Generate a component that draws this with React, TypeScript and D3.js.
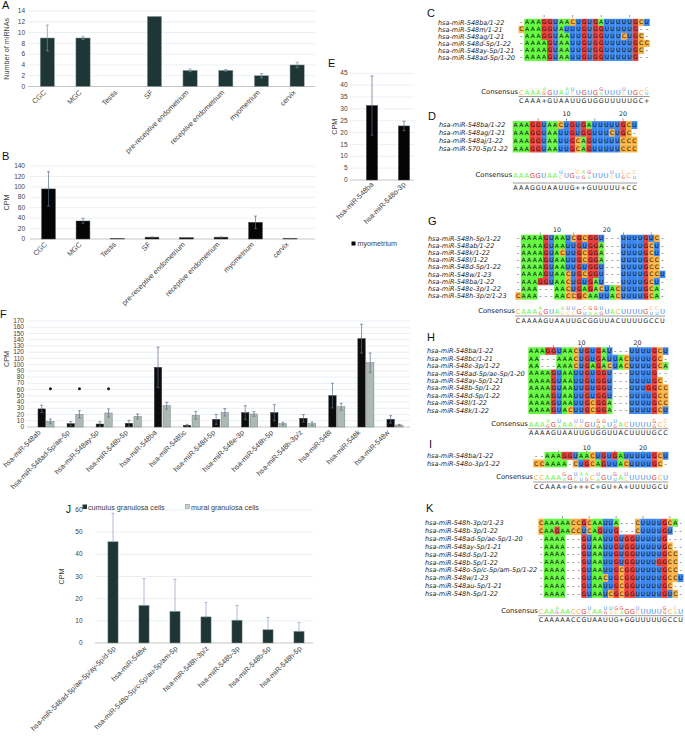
import React from "react";
import * as d3 from "d3";

const FONT = "'Liberation Sans', Arial, sans-serif";
const ALN_FONT = "'DejaVu Sans', Verdana, sans-serif";
const NT: Record<string, string> = { A: "#64F73F", C: "#FFB340", G: "#EB413C", U: "#3C88EE" };

// A / B: tissues
const tissues = ["CGC", "MGC", "Testis", "SF", "pre-receptive endometrium", "receptive endometrium", "myometrium", "cervix"];
const mirnaCounts = [9, 9, 0, 13, 3, 3, 2, 4];
const mirnaCountErr = [2.4, 0.3, 0, 0, 0.25, 0.15, 0.4, 0.5];
const countTicks = [0, 2, 4, 6, 8, 10, 12, 14];
const tissueCpm = [96, 34.5, 0.6, 3.5, 2.5, 3.5, 32, 1];
const tissueCpmErr = [33, 5, 0, 0.4, 0.3, 0.5, 12, 0.3];
const tissueCpmTicks = [0, 20, 40, 60, 80, 100, 120, 140];

// E: myometrium
const myoMirs = ["hsa-miR-548ba", "hsa-miR-548o-3p"];
const myoCpm = [31.4, 22.8];
const myoErr = [12.5, 2];
const myoTicks = [0, 5, 10, 15, 20, 25, 30, 35, 40, 45];

// F: cumulus vs mural
const fMirs = [
  "hsa-miR-548ab", "hsa-miR-548ad-5p/ae-5p", "hsa-miR-548ay-5p", "hsa-miR-548b-5p", "hsa-miR-548ba",
  "hsa-miR-548bc", "hsa-miR-548d-5p", "hsa-miR-548e-3p", "hsa-miR-548h-5p", "hsa-miR-548h-3p/z",
  "hsa-miR-548l", "hsa-miR-548k", "hsa-miR-548w",
];
const cumulusCpm = [29, 5.3, 4.8, 5.9, 95.7, 2.7, 12.3, 23, 23, 13.9, 50.3, 141.7, 12.3];
const cumulusErr = [5.9, 3.3, 3.8, 4.8, 32.3, 1.6, 8, 11.2, 12.8, 5.9, 19.7, 23, 5.9];
const muralCpm = [9, 20.3, 22.5, 17, 34.2, 18.7, 23.5, 20.9, 5.3, 5.3, 32.6, 103.2, 3.2];
const muralErr = [3.8, 5.9, 6.5, 3.9, 5.4, 5.9, 5.9, 3.7, 2.2, 2.7, 5.4, 15.5, 1.1];
const starred = ["hsa-miR-548ab", "hsa-miR-548ad-5p/ae-5p", "hsa-miR-548ay-5p"];
const starLevel = 61.5;
const fTicks = [0, 10, 20, 30, 40, 50, 60, 70, 80, 90, 100, 110, 120, 130, 140, 150, 160, 170];

// J: cumulus only
const jMirs = [
  "hsa-miR-548ad-5p/ae-5p/ay-5p/d-5p", "hsa-miR-548w", "hsa-miR-548o-5p/c-5p/au-5p/am-5p",
  "hsa-miR-548h-3p/z", "hsa-miR-548b-3p", "hsa-miR-548b-5p", "hsa-miR-548h-5p",
];
const jCpm = [45.7, 17, 14.3, 11.8, 10.3, 6, 5.3];
const jErr = [12.8, 12.1, 14.4, 6.5, 6.6, 5.5, 3.9];
const jTicks = [0, 10, 20, 30, 40, 50, 60];

// alignments
const cNames = ["hsa-miR-548ba/1-22", "hsa-miR-548m/1-21", "hsa-miR-548ag/1-21", "hsa-miR-548d-5p/1-22", "hsa-miR-548ay-5p/1-21", "hsa-miR-548ad-5p/1-20"];
const cSeqs = [
  "-AAAGGUAACUGUGAUUUUUGCU",
  "CAAAGGUAUUUGUGGUUUUUG--",
  "-AAAGGUAAUUGUGGUUUCUGC-",
  "-AAAAGUAAUUGUGGUUUUUGCC",
  "-AAAAGUAAUUGUGGUUUUUGC-",
  "-AAAAGUAAUUGUGGUUUUUG--",
];
const cCons = "CAAA+GUAAUUGUGGUUUUUGC+";
const cLogoTop = "CAAAAGUAAUUGUGGUUUUUGCC";
const cLogoBot = "    G   UC    A   C   U";
const cTicks = [4, 9, 14, 19];
const cNums: [number, string][] = [];

const dNames = ["hsa-miR-548ba/1-22", "hsa-miR-548ag/1-21", "hsa-miR-548aj/1-22", "hsa-miR-570-5p/1-22"];
const dSeqs = [
  "AAAGGUAACUGUGAUUUUUGCU",
  "AAAGGUAAUUGUGGUUUCUGC-",
  "AAAGGUAAUUGCAGUUUUUCCC",
  "AAAGGUAAUUGCAGUUUUUCCC",
];
const dCons = "AAAGGUAAUUG++GUUUUU+CC";
const dLogoTop = "AAAGGUAAUUGCAGUUUUUCCC";
const dLogoBot = "        C  UGA   C G U";
const dTicks = [4, 9, 14, 19];
const dNums: [number, string][] = [[9, "10"], [19, "20"]];

const gNames = [
  "hsa-miR-548h-5p/1-22", "hsa-miR-548ab/1-22", "hsa-miR-548k/1-22", "hsa-miR-548l/1-22", "hsa-miR-548d-5p/1-22",
  "hsa-miR-548w/1-23", "hsa-miR-548ba/1-22", "hsa-miR-548e-3p/1-22", "hsa-miR-548h-3p/z/1-23",
];
const gSeqs = [
  "-AAAAGUAAUCGCGGU---UUUUGUC-",
  "-AAAAGUAAUUGUGGA---UUUUGCU-",
  "-AAAAGUACUUGCGGA---UUUUGCU-",
  "-AAAAGUAAUUGCGGA---UUUUGCC-",
  "-AAAAGUAAUUGUGGU---UUUUGCC-",
  "-AAAAGUAACUGCGGU---UUUUGCCU",
  "-AAAGGUAACUGUGAU---UUUUGCU-",
  "-AAA---AACUGAGACUACUUUUGCA-",
  "CAAA---AACCGCAAUUACUUUUGCA-",
];
const gCons = "CAAAAGUAAUUGCGGUUACUUUUGCCU";
const gLogoTop = "CAAAAGUAAUUGCGGUUACUUUUGCCU";
const gLogoBot = "    G   CCC UAAG        UU ";
const gTicks = [4, 10, 19, 24];
const gNums: [number, string][] = [[7, "10"], [16, "20"]];

const hNames = [
  "hsa-miR-548ba/1-22", "hsa-miR-548bc/1-21", "hsa-miR-548e-3p/1-22", "hsa-miR-548ad-5p/ae-5p/1-20",
  "hsa-miR-548ay-5p/1-21", "hsa-miR-548b-5p/1-22", "hsa-miR-548d-5p/1-22", "hsa-miR-548l/1-22", "hsa-miR-548k/1-22",
];
const hSeqs = [
  "AAAGGUAACUGUGAU---UUUUGCU",
  "AA---AAACUGUGAUUACUUUUGC-",
  "AA---AAACUGAGACUACUUUUGCA",
  "AAAAGUAAUUGUGGU---UUUUG--",
  "AAAAGUAAUUGUGGU---UUUUGC-",
  "AAAAGUAAUUGUGGU---UUUGGCC",
  "AAAAGUAAUUGUGGU---UUUUGCC",
  "AAAAGUAAUUGCGGA---UUUUGCC",
  "AAAAGUACUUGCGGA---UUUUGCU",
];
const hCons = "AAAAGUAAUUGUGGUUACUUUUGCC";
const hLogoTop = "AAAAGUAAUUGUGGUUACUUUUGCC";
const hLogoBot = "   G A  CC  GA G      G C";
const hTicks = [4, 9, 14, 19];
const hNums: [number, string][] = [[9, "10"], [19, "20"]];

const iNames = ["hsa-miR-548ba/1-22", "hsa-miR-548o-3p/1-22"];
const iSeqs = ["--AAAGGUAACUGUGAUUUUUGCU", "CCAAAA-CUGCAGUUACUUUUGC-"];
const iCons = "CCAAA+G+++C+GU+A+UUUUGCU";
const iLogoTop = "CCAAAGGUAACUGUGAUUUUUGCU";
const iLogoBot = "     A CUG A  U C       ";
const iTicks = [4, 9, 14, 19];
const iNums: [number, string][] = [[9, "10"], [19, "20"]];

const kNames = [
  "hsa-miR-548h-3p/z/1-23", "hsa-miR-548b-3p/1-22", "hsa-miR-548ad-5p/ae-5p/1-20", "hsa-miR-548ay-5p/1-21",
  "hsa-miR-548d-5p/1-22", "hsa-miR-548b-5p/1-22", "hsa-miR-548o-5p/c-5p/am-5p/1-22", "hsa-miR-548w/1-23",
  "hsa-miR-548au-5p/1-21", "hsa-miR-548h-5p/1-22",
];
const kSeqs = [
  "CAAAAACCGCAAUUA---CUUUUGCA-",
  "CAAGAACCUCAGUUG---CUUUUGU--",
  "-AAAA---GUAAUUGUGGUUUUUG---",
  "-AAAA---GUAAUUGUGGUUUUUGC--",
  "-AAAA---GUAAUUGUGGUUUUUGCC-",
  "-AAAA---GUAAUUGUGGUUUUGGCC-",
  "-AAAA---GUAAUUGCGGUUUUUGCC-",
  "-AAAA---GUAACUGCGGUUUUUGCCU",
  "-AAAA---GUAAUUGCGGUUUUUGC--",
  "-AAAA---GUAAUCGCGGUUUUUGUC-",
];
const kCons = "CAAAAACCGUAAUUG+GGUUUUUGCCU";
const kLogoTop = "CAAAAACCGUAAUUGGGGUUUUUGCCU";
const kLogoBot = "   G     C  GCCA  C    G A ";
const kTicks = [4, 9, 14, 19, 24];
const kNums: [number, string][] = [];

type AlnLayout = {
  label: string; lx: number; ly: number; nameX: number; x0: number; cw: number; y0: number; rh: number;
  tickY: number; numY: number; logoY: number; lineY: number; consY: number;
};

function YGrid({ y, ticks, x0, x1, tickX }: { y: d3.ScaleLinear<number, number>; ticks: number[]; x0: number; x1: number; tickX: number }) {
  return (
    <g>
      {ticks.map((t) => (
        <g key={t}>
          <line x1={x0} x2={x1} y1={y(t)} y2={y(t)} stroke={t === 0 ? "#bfbfbf" : "#dde4ee"} strokeWidth={t === 0 ? 0.9 : 0.6} />
          <text x={tickX} y={y(t)} dy="0.33em" textAnchor="end" fontSize={6.5} fill="#404040">{t}</text>
        </g>
      ))}
    </g>
  );
}

function ErrBar({ x, lo, hi, color }: { x: number; lo: number; hi: number; color: string }) {
  return (
    <g stroke={color} strokeWidth={0.7}>
      <line x1={x} x2={x} y1={lo} y2={hi} />
      <line x1={x - 1.5} x2={x + 1.5} y1={hi} y2={hi} />
      <line x1={x - 1.5} x2={x + 1.5} y1={lo} y2={lo} />
    </g>
  );
}

type SimpleProps = {
  cats: string[]; vals: number[]; errs: number[]; upOnly?: boolean;
  xr: [number, number]; pad: number; yMax: number; yr: [number, number];
  ticks: number[]; grid: [number, number]; tickX: number;
  fill: string; stroke: string; errColor: string;
  labelY: number; labelDx: number; title: string; titleX: number;
};

function SimpleBars(p: SimpleProps) {
  const x = d3.scaleBand<string>().domain(p.cats).range(p.xr).paddingInner(p.pad).paddingOuter(p.pad / 2);
  const y = d3.scaleLinear().domain([0, p.yMax]).range(p.yr);
  const bw = x.bandwidth();
  return (
    <g>
      <YGrid y={y} ticks={p.ticks} x0={p.grid[0]} x1={p.grid[1]} tickX={p.tickX} />
      <text transform={`translate(${p.titleX},${(p.yr[0] + p.yr[1]) / 2}) rotate(-90)`} textAnchor="middle" fontSize={7.2} fill="#404040">
        {p.title}
      </text>
      {p.cats.map((c, i) => {
        const cx = (x(c) ?? 0) + bw / 2;
        const v = p.vals[i];
        const e = p.errs[i];
        return (
          <g key={c}>
            {v > 0 && <rect x={x(c)} y={y(v)} width={bw} height={y(0) - y(v)} fill={p.fill} stroke={p.stroke} strokeWidth={0.5} />}
            {e > 0 && <ErrBar x={cx} lo={y(p.upOnly ? v : v - e)} hi={y(v + e)} color={p.errColor} />}
            <text transform={`translate(${cx + p.labelDx},${p.labelY}) rotate(-45)`} textAnchor="end" fontSize={7.2} fill="#404040">
              {c}
            </text>
          </g>
        );
      })}
    </g>
  );
}

function GroupedBars() {
  const x0 = d3.scaleBand<string>().domain(fMirs).range([31.5, 409.5]);
  const x1 = d3.scaleBand<string>().domain(["c", "m"]).range([0, x0.bandwidth()]).paddingInner(0.15).paddingOuter(0.75);
  const y = d3.scaleLinear().domain([0, 170]).range([427, 321]);
  const bw = x1.bandwidth();
  const series = [
    { key: "c", vals: cumulusCpm, errs: cumulusErr, fill: "#0d0d0d", stroke: "#3a3a3a" },
    { key: "m", vals: muralCpm, errs: muralErr, fill: "#adbab4", stroke: "#74847e" },
  ];
  return (
    <g>
      <YGrid y={y} ticks={fTicks} x0={27} x1={410} tickX={24} />
      <text transform={`translate(9,359) rotate(-90)`} textAnchor="middle" fontSize={7.2} fill="#404040">CPM</text>
      {fMirs.map((m, i) => {
        const gx = x0(m) ?? 0;
        return (
          <g key={m}>
            {series.map((s) => {
              const bx = gx + (x1(s.key) ?? 0);
              const v = s.vals[i];
              const e = s.errs[i];
              return (
                <g key={s.key}>
                  <rect x={bx} y={y(v)} width={bw} height={y(0) - y(v)} fill={s.fill} stroke={s.stroke} strokeWidth={0.5} />
                  <ErrBar x={bx + bw / 2} lo={y(Math.max(0, v - e))} hi={y(v + e)} color="#5b6d8a" />
                </g>
              );
            })}
            {starred.includes(m) && <circle cx={gx + (x1("m") ?? 0) + bw / 2} cy={y(starLevel)} r={1.5} fill="#1a1a1a" />}
            <text transform={`translate(${gx + x0.bandwidth() / 2 - 5},${433}) rotate(-45)`} textAnchor="end" fontSize={7.2} fill="#404040">
              {m}
            </text>
          </g>
        );
      })}
    </g>
  );
}

function Alignment({ L, names, seqs, cons, logoTop, logoBot, ticks, nums }: {
  L: AlnLayout; names: string[]; seqs: string[]; cons: string; logoTop: string; logoBot: string; ticks: number[]; nums: [number, string][];
}) {
  const n = seqs[0].length;
  const x = d3.scaleBand<number>().domain(d3.range(n)).range([L.x0, L.x0 + n * L.cw]);
  const y = d3.scaleBand<number>().domain(d3.range(seqs.length)).range([L.y0 - L.rh / 2, L.y0 - L.rh / 2 + seqs.length * L.rh]);
  const cw = x.bandwidth();
  const rh = y.bandwidth();
  const cx = (i: number) => (x(i) ?? 0) + cw / 2;
  return (
    <g fontFamily={ALN_FONT}>
      <text x={L.lx} y={L.ly} fontSize={11} fill="#111" fontFamily={FONT}>{L.label}</text>
      {nums.map(([i, s]) => (
        <text key={s} x={cx(i)} y={L.numY} textAnchor="middle" fontSize={6.3} fill="#222">{s}</text>
      ))}
      {ticks.map((i) => (
        <line key={i} x1={cx(i)} x2={cx(i)} y1={L.tickY} y2={L.tickY + 2.4} stroke="#555" strokeWidth={0.6} />
      ))}
      {names.map((nm, r) => (
        <text key={nm} x={L.nameX} y={(y(r) ?? 0) + rh / 2} dy="0.36em" fontStyle="italic" fontSize={6.5} fill="#222">{nm}</text>
      ))}
      {seqs.map((s, r) => (
        <g key={r}>
          {s.split("").map((ch, i) =>
            NT[ch] ? (
              <rect key={i} x={x(i)} y={y(r)} width={cw + 0.15} height={rh + 0.15} fill={NT[ch]} />
            ) : null
          )}
          {s.split("").map((ch, i) => (
            <text key={"t" + i} x={cx(i)} y={(y(r) ?? 0) + rh / 2} dy="0.36em" textAnchor="middle" fontSize={6} fill="#111">{ch}</text>
          ))}
        </g>
      ))}
      <text x={L.x0 - 0.5} y={L.logoY - 1} textAnchor="end" fontSize={6.8} fill="#222">Consensus</text>
      {logoTop.split("").map((t, i) => {
        const b = logoBot[i] && logoBot[i] !== " " ? logoBot[i] : null;
        if (!b) {
          return <text key={i} x={cx(i)} y={L.logoY} textAnchor="middle" fontSize={6.8} fill={NT[t]}>{t}</text>;
        }
        return (
          <g key={i}>
            <text x={cx(i)} y={L.logoY - 3.8} textAnchor="middle" fontSize={5} fill={NT[t]}>{t}</text>
            <text x={cx(i)} y={L.logoY + 0.6} textAnchor="middle" fontSize={4.6} fill={NT[b]}>{b}</text>
          </g>
        );
      })}
      <line x1={L.x0} x2={L.x0 + n * L.cw} y1={L.lineY} y2={L.lineY} stroke="#9a9a9a" strokeWidth={1} />
      {cons.split("").map((ch, i) => (
        <text key={i} x={cx(i)} y={L.consY} textAnchor="middle" fontSize={6.4} fill="#222">{ch}</text>
      ))}
    </g>
  );
}

const layoutC: AlnLayout = { label: "C", lx: 427, ly: 17, nameX: 438, x0: 518.5, cw: 5.7, y0: 22.3, rh: 7, tickY: 15, numY: 0, logoY: 94.5, lineY: 96.5, consY: 103 };
const layoutD: AlnLayout = { label: "D", lx: 428, ly: 120, nameX: 439, x0: 512.7, cw: 5.66, y0: 125, rh: 7.8, tickY: 118.5, numY: 115.5, logoY: 178, lineY: 183, consY: 190 };
const layoutG: AlnLayout = { label: "G", lx: 428, ly: 225, nameX: 428, x0: 515.3, cw: 5.55, y0: 238.3, rh: 7.2, tickY: 232.4, numY: 232, logoY: 314, lineY: 316, consY: 322.5 };
const layoutH: AlnLayout = { label: "H", lx: 427, ly: 341, nameX: 427, x0: 528.3, cw: 5.6, y0: 351, rh: 7.4, tickY: 345, numY: 344.5, logoY: 427, lineY: 428.7, consY: 435 };
const layoutI: AlnLayout = { label: "I", lx: 429, ly: 448, nameX: 427, x0: 533.3, cw: 5.625, y0: 455.7, rh: 7.7, tickY: 450.5, numY: 450, logoY: 480, lineY: 482, consY: 489 };
const layoutK: AlnLayout = { label: "K", lx: 426, ly: 512, nameX: 425, x0: 538.3, cw: 5.37, y0: 522.7, rh: 7.9, tickY: 516, numY: 0, logoY: 613.5, lineY: 615.7, consY: 622 };

export default function App() {
  return (
    <svg width={685} height={737} style={{ position: "absolute", left: 0, top: 0, background: "#fff" }} fontFamily={FONT}>
      <rect width={685} height={737} fill="#fff" />

      {/* A */}
      <text x={2} y={9} fontSize={11} fill="#111">A</text>
      <SimpleBars cats={tissues} vals={mirnaCounts} errs={mirnaCountErr} xr={[29.5, 315]} pad={0.6} yMax={14} yr={[86.5, 11]}
        ticks={countTicks} grid={[28, 315]} tickX={25} fill="#1f3636" stroke="#9aa6a6" errColor="#7d8ca0"
        labelY={93} labelDx={-1} title="Number of miRNAs" titleX={9} />

      {/* B */}
      <text x={2} y={160} fontSize={11} fill="#111">B</text>
      <SimpleBars cats={tissues} vals={tissueCpm} errs={tissueCpmErr} xr={[31.25, 307.25]} pad={0.6} yMax={140} yr={[239, 166]}
        ticks={tissueCpmTicks} grid={[30, 315]} tickX={25} fill="#050505" stroke="#4a4a4a" errColor="#5b6d8a"
        labelY={245} labelDx={-1} title="CPM" titleX={9} />

      {/* E */}
      <text x={328} y={67} fontSize={11} fill="#111">E</text>
      <SimpleBars cats={myoMirs} vals={myoCpm} errs={myoErr} xr={[356, 420]} pad={0.65} yMax={45} yr={[180, 73.3]}
        ticks={myoTicks} grid={[350, 414]} tickX={347.5} fill="#050505" stroke="#4a4a4a" errColor="#5b6d8a"
        labelY={185} labelDx={2} title="CPM" titleX={337} />
      <rect x={351.5} y={241.5} width={4} height={4} fill="#050505" />
      <text x={357.5} y={246} fontSize={7.2} fill="#404040">myometrium</text>

      {/* F */}
      <text x={0} y={318} fontSize={11} fill="#111">F</text>
      <GroupedBars />

      {/* J */}
      <text x={66} y={513} fontSize={10} fill="#111">J</text>
      <SimpleBars cats={jMirs} vals={jCpm} errs={jErr} upOnly xr={[97.5, 314.5]} pad={0.67} yMax={60} yr={[643, 510]}
        ticks={jTicks} grid={[95, 313]} tickX={82.5} fill="#1f3535" stroke="#9aa6a6" errColor="#8d9fc2"
        labelY={649} labelDx={3} title="CPM" titleX={64} />
      <rect x={82.5} y={504.5} width={4.5} height={4.5} fill="#1f3535" />
      <text x={88} y={509.5} fontSize={7.2} fill="#404040">cumulus granulosa cells</text>
      <rect x={185.5} y={504.5} width={4} height={4} fill="#c5d0cb" stroke="#74847e" strokeWidth={0.5} />
      <text x={191} y={509.5} fontSize={7.2} fill="#404040">mural granulosa cells</text>

      {/* alignments */}
      <Alignment L={layoutC} names={cNames} seqs={cSeqs} cons={cCons} logoTop={cLogoTop} logoBot={cLogoBot} ticks={cTicks} nums={cNums} />
      <Alignment L={layoutD} names={dNames} seqs={dSeqs} cons={dCons} logoTop={dLogoTop} logoBot={dLogoBot} ticks={dTicks} nums={dNums} />
      <Alignment L={layoutG} names={gNames} seqs={gSeqs} cons={gCons} logoTop={gLogoTop} logoBot={gLogoBot} ticks={gTicks} nums={gNums} />
      <Alignment L={layoutH} names={hNames} seqs={hSeqs} cons={hCons} logoTop={hLogoTop} logoBot={hLogoBot} ticks={hTicks} nums={hNums} />
      <Alignment L={layoutI} names={iNames} seqs={iSeqs} cons={iCons} logoTop={iLogoTop} logoBot={iLogoBot} ticks={iTicks} nums={iNums} />
      <Alignment L={layoutK} names={kNames} seqs={kSeqs} cons={kCons} logoTop={kLogoTop} logoBot={kLogoBot} ticks={kTicks} nums={kNums} />
    </svg>
  );
}
